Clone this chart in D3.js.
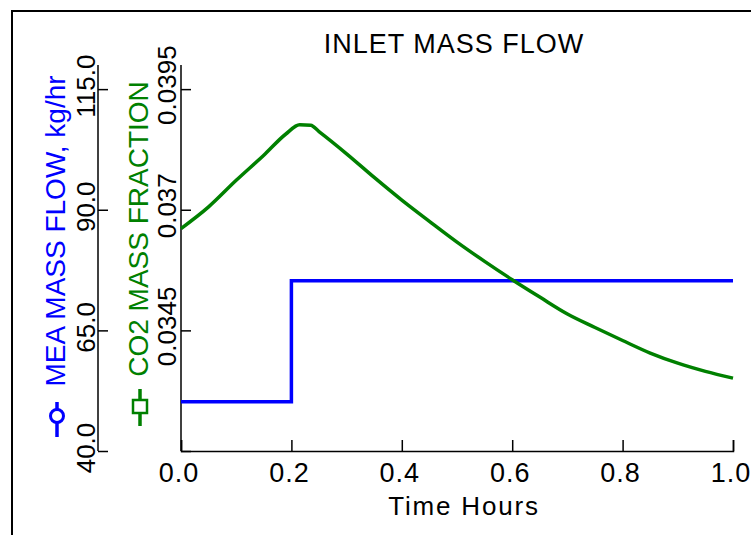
<!DOCTYPE html>
<html>
<head>
<meta charset="utf-8">
<script src="https://cdn.jsdelivr.net/npm/d3@7"></script>
<style>
  body { margin: 0; background: #fff; }
  text { font-family: "Liberation Sans", Arial, sans-serif; }
</style>
</head>
<body>
<div id="chart"></div>
<script>
// MEA mass flow, kg/hr (step change at 0.2 hr)
const meaTime = [0.0, 0.2, 0.2, 1.0];
const meaFlow = [50.2, 50.2, 75.3, 75.3];

// CO2 mass fraction
const co2Time = [0.0, 0.05, 0.10, 0.15, 0.19, 0.215, 0.235, 0.25, 0.30, 0.35, 0.40, 0.45,
  0.50, 0.55, 0.60, 0.65, 0.70, 0.75, 0.80, 0.85, 0.90, 0.95, 1.0];
const co2Frac = [0.03661, 0.03706, 0.03761, 0.03813, 0.03857, 0.03876, 0.03875, 0.03862,
  0.03816, 0.03767, 0.03720, 0.03676, 0.03633, 0.03593, 0.03555, 0.03519, 0.03484, 0.03456,
  0.03429, 0.03403, 0.03382, 0.03365, 0.03351];

const timeTicks = [0.0, 0.2, 0.4, 0.6, 0.8, 1.0];
const meaTicks = [40, 65, 90, 115];
const co2Ticks = [0.032, 0.0345, 0.037, 0.0395];
const co2TickLabels = ["", "0.0345", "0.037", "0.0395"];

(() => {
  const width = 751;
  const height = 535;
  const plotTop = 65;
  const plotBottom = 451;
  const xLeft = 181;
  const xRight = 733;
  const meaAxisX = 98;

  const svg = d3
    .select("#chart")
    .append("svg")
    .attr("width", width)
    .attr("height", height);

  // outer frame, runs off the right and bottom
  svg
    .append("rect")
    .attr("x", 12)
    .attr("y", 11)
    .attr("width", 800)
    .attr("height", 600)
    .attr("fill", "none")
    .attr("stroke", "#000")
    .attr("stroke-width", 2);

  const x = d3.scaleLinear().domain([0, 1]).range([xLeft, xRight]);
  const yMea = d3.scaleLinear().domain([40, 120]).range([plotBottom, plotTop]);
  const yCo2 = d3.scaleLinear().domain([0.032, 0.04]).range([plotBottom, plotTop]);

  // x axis
  const xAxis = svg
    .append("g")
    .attr("transform", `translate(0,${plotBottom})`)
    .call(
      d3.axisTop(x).tickValues(timeTicks).tickSize(11).tickFormat("")
    );
  xAxis.selectAll("path, line").attr("stroke", "#000").attr("stroke-width", 1.5);

  svg
    .append("g")
    .selectAll("text")
    .data(timeTicks)
    .join("text")
    .attr("x", (d) => x(d) - 2)
    .attr("y", 482)
    .attr("text-anchor", "middle")
    .style("font-size", "27px")
    .style("letter-spacing", "1px")
    .text((d) => d3.format(".1f")(d));

  svg
    .append("text")
    .attr("x", 464)
    .attr("y", 515)
    .attr("text-anchor", "middle")
    .style("font-size", "26px")
    .style("letter-spacing", "1.8px")
    .text("Time Hours");

  // MEA axis
  const meaAxis = svg
    .append("g")
    .attr("transform", `translate(${meaAxisX},0)`)
    .call(d3.axisRight(yMea).tickValues(meaTicks).tickSize(10).tickFormat(""));
  meaAxis.select(".domain").attr("d", `M0,${plotTop}V${plotBottom}`);
  meaAxis.selectAll("path, line").attr("stroke", "#000").attr("stroke-width", 1.5);

  svg
    .append("g")
    .selectAll("text")
    .data(meaTicks)
    .join("text")
    .attr("transform", (d) => `translate(95,${yMea(d) - 3}) rotate(-90)`)
    .attr("text-anchor", "middle")
    .style("font-size", "26px")
    .text((d) => d3.format(".1f")(d));

  // CO2 axis
  const co2Axis = svg
    .append("g")
    .attr("transform", `translate(${xLeft},0)`)
    .call(d3.axisRight(yCo2).tickValues(co2Ticks).tickSize(10).tickFormat(""));
  co2Axis.select(".domain").attr("d", `M0,${plotTop}V${plotBottom}`);
  co2Axis.selectAll("path, line").attr("stroke", "#000").attr("stroke-width", 1.5);

  svg
    .append("g")
    .selectAll("text")
    .data(co2Ticks)
    .join("text")
    .attr("transform", (d) => `translate(176,${yCo2(d) - 4}) rotate(-90)`)
    .attr("text-anchor", "middle")
    .style("font-size", "26px")
    .text((d, i) => co2TickLabels[i]);

  // axis titles with legend symbols
  svg
    .append("text")
    .attr("transform", "translate(65,231) rotate(-90)")
    .attr("text-anchor", "middle")
    .attr("fill", "#0000ff")
    .style("font-size", "28px")
    .text("MEA MASS FLOW, kg/hr");

  svg
    .append("text")
    .attr("transform", "translate(148,229) rotate(-90)")
    .attr("text-anchor", "middle")
    .attr("fill", "#008000")
    .style("font-size", "28px")
    .text("CO2 MASS FRACTION");

  svg
    .append("line")
    .attr("x1", 57).attr("x2", 57)
    .attr("y1", 402).attr("y2", 437)
    .attr("stroke", "#0000ff")
    .attr("stroke-width", 3.5);
  svg
    .append("circle")
    .attr("cx", 57)
    .attr("cy", 416)
    .attr("r", 6.5)
    .attr("fill", "#fff")
    .attr("stroke", "#0000ff")
    .attr("stroke-width", 3);

  svg
    .append("line")
    .attr("x1", 140).attr("x2", 140)
    .attr("y1", 389).attr("y2", 426)
    .attr("stroke", "#008000")
    .attr("stroke-width", 3.5);
  svg
    .append("rect")
    .attr("x", 133)
    .attr("y", 400)
    .attr("width", 14)
    .attr("height", 13)
    .attr("fill", "#fff")
    .attr("stroke", "#008000")
    .attr("stroke-width", 2.5);

  // title
  svg
    .append("text")
    .attr("x", 454)
    .attr("y", 53)
    .attr("text-anchor", "middle")
    .style("font-size", "27px")
    .style("letter-spacing", "1px")
    .text("INLET MASS FLOW");

  // series
  const meaLine = d3
    .line()
    .x((d, i) => x(meaTime[i]))
    .y((d) => yMea(d));

  svg
    .append("path")
    .datum(meaFlow)
    .attr("d", meaLine)
    .attr("fill", "none")
    .attr("stroke", "#0000ff")
    .attr("stroke-width", 3.5);

  const co2Line = d3
    .line()
    .x((d, i) => x(co2Time[i]))
    .y((d) => yCo2(d))
    .curve(d3.curveMonotoneX);

  svg
    .append("path")
    .datum(co2Frac)
    .attr("d", co2Line)
    .attr("fill", "none")
    .attr("stroke", "#008000")
    .attr("stroke-width", 3.5);
})();
</script>
</body>
</html>
